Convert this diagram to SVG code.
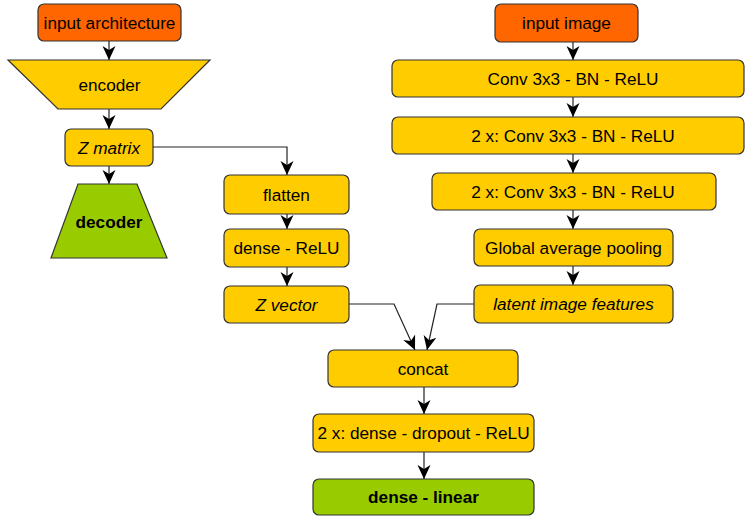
<svg xmlns="http://www.w3.org/2000/svg" width="745" height="516" viewBox="0 0 745 516">
<defs>
<marker id="arr" markerUnits="userSpaceOnUse" viewBox="0 0 14 14" markerWidth="14" markerHeight="14" refX="14" refY="7" orient="auto">
<path d="M0,0.5 L14,7 L0,13.5 L4,7 z" fill="#000"/>
</marker>
</defs>
<style>
.b{stroke:#333;stroke-width:1.2}
.o{fill:#FF6600}
.y{fill:#FFCC00}
.g{fill:#99CC00}
text{font-family:"Liberation Sans",Arial,sans-serif;font-size:17.2px;fill:#000;text-anchor:middle}
.i{font-style:italic}
.bd{font-weight:bold}
.c{fill:none;stroke:#222;stroke-width:1.2;marker-end:url(#arr)}
</style>
<rect width="745" height="516" fill="#fff"/>
<g id="connectors">
<path class="c" d="M109,41 L109,60"/>
<path class="c" d="M109,109 L109,129"/>
<path class="c" d="M109,166 L109,184"/>
<path class="c" d="M153,147 L287,147 L287,175"/>
<path class="c" d="M287,214 L287,229"/>
<path class="c" d="M287,267 L287,286"/>
<path class="c" d="M573,42 L573,60"/>
<path class="c" d="M573,97 L573,117"/>
<path class="c" d="M573,154 L573,173"/>
<path class="c" d="M573,210 L573,229"/>
<path class="c" d="M573,266 L573,285"/>
<path class="c" d="M349,304 L394,304 L415,350"/>
<path class="c" d="M474,304 L437,304 L427,350"/>
<path class="c" d="M424,387 L424,414"/>
<path class="c" d="M424,452 L424,479"/>
</g>
<g id="input-architecture"><rect class="b o" x="38" y="4" width="143" height="37" rx="6"/><text x="109.5" y="28.5">input architecture</text></g>
<g id="encoder"><path class="b y" d="M8,60 L210,60 L161,109 L58,109 Z"/><text x="109.5" y="91">encoder</text></g>
<g id="z-matrix"><rect class="b y" x="65" y="129" width="88" height="37" rx="6"/><text class="i" x="109" y="153.5">Z matrix</text></g>
<g id="decoder"><path class="b g" d="M78,184 L137,184 L167,258 L51,258 Z"/><text class="bd" x="109" y="227.5">decoder</text></g>
<g id="flatten"><rect class="b y" x="224" y="175" width="125" height="39" rx="6"/><text x="286.5" y="200.5">flatten</text></g>
<g id="dense-relu"><rect class="b y" x="224" y="229" width="125" height="38" rx="6"/><text x="286.5" y="254">dense - ReLU</text></g>
<g id="z-vector"><rect class="b y" x="224" y="286" width="125" height="37" rx="6"/><text class="i" x="286.5" y="310.5">Z vector</text></g>
<g id="input-image"><rect class="b o" x="495" y="4" width="143" height="38" rx="6"/><text x="566.5" y="29">input image</text></g>
<g id="conv1"><rect class="b y" x="392" y="60" width="352" height="37" rx="6"/><text x="573" y="84.5">Conv 3x3 - BN - ReLU</text></g>
<g id="conv2"><rect class="b y" x="392" y="117" width="352" height="37" rx="6"/><text x="573" y="141.5">2 x: Conv 3x3 - BN - ReLU</text></g>
<g id="conv3"><rect class="b y" x="432" y="173" width="284" height="37" rx="6"/><text x="573" y="197.5">2 x: Conv 3x3 - BN - ReLU</text></g>
<g id="gap"><rect class="b y" x="474" y="229" width="199" height="37" rx="6"/><text x="573.5" y="253.5">Global average pooling</text></g>
<g id="latent"><rect class="b y" x="474" y="285" width="199" height="38" rx="6"/><text class="i" x="573.5" y="310">latent image features</text></g>
<g id="concat"><rect class="b y" x="328" y="350" width="190" height="37" rx="6"/><text x="423" y="374.5">concat</text></g>
<g id="dense-dropout"><rect class="b y" x="313" y="414" width="221" height="38" rx="6"/><text x="423.5" y="439">2 x: dense - dropout - ReLU</text></g>
<g id="dense-linear"><rect class="b g" x="313" y="479" width="221" height="36" rx="6"/><text class="bd" x="423.5" y="503">dense - linear</text></g>
</svg>
